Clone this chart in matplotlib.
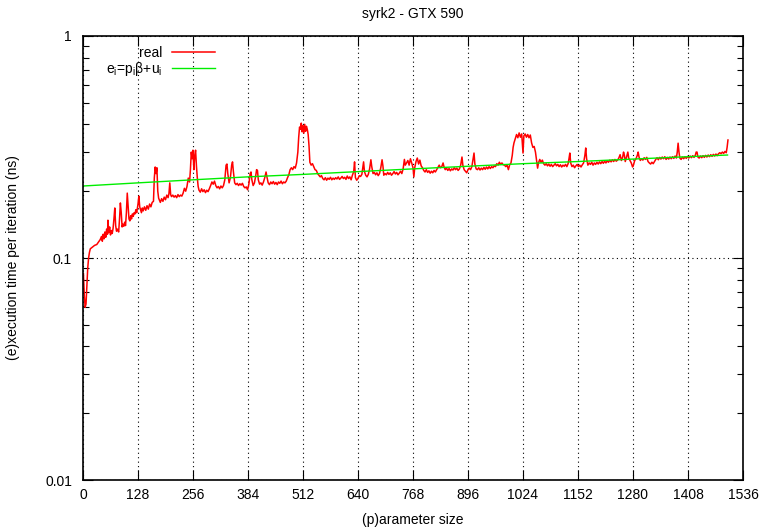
import matplotlib
matplotlib.use("Agg")
import matplotlib.pyplot as plt
from matplotlib.ticker import FixedLocator, LogLocator, NullFormatter, FixedFormatter

plt.rcParams['font.family'] = ['Liberation Sans', 'DejaVu Sans']

title = "syrk2 - GTX 590"
xlabel = "(p)arameter size"
ylabel = "(e)xecution time per iteration (ns)"
x_ticks = [0, 128, 256, 384, 512, 640, 768, 896, 1024, 1152, 1280, 1408, 1536]
y_ticks = [0.01, 0.1, 1]
y_tick_labels = ["0.01", "0.1", "1"]

real_x = [
    1, 3, 5, 7, 9, 11, 13, 15, 17, 22, 27, 32, 36, 40,
    43, 45, 47, 49, 51, 53, 55, 57, 58, 60, 62, 64, 66, 68, 70, 72, 74, 76, 78, 80,
    83, 85, 87, 89, 91, 93, 95, 97, 99, 101, 103, 105, 107, 109, 111, 113, 115, 117, 119, 121,
    123, 125, 128, 130, 132, 134, 136, 138, 140, 143, 146, 149, 152, 155, 158, 161, 164, 166,
    168, 170, 172, 174, 176, 178, 180, 183, 186, 189, 192, 195, 198, 200, 202, 204, 206, 209,
    212, 215, 218, 221, 224, 227, 230, 233, 236, 239, 242, 245, 248, 250, 252, 254, 256, 258,
    260, 262, 264, 266, 268, 270,
    273, 276, 279, 282, 285, 288, 291, 294, 297, 300, 303, 306, 309, 312, 315, 318, 321, 324,
    327, 330, 333, 335, 337, 340, 343, 346, 348, 350, 353, 356, 359, 362, 365, 368, 371, 374,
    377, 380, 383, 386, 389, 391, 393, 396, 399, 402, 404, 406, 408, 411, 414, 417, 420, 423,
    426, 428, 431, 434, 437, 440, 443, 446, 449, 452, 455, 458, 461, 464, 467, 470, 473, 476,
    479, 482, 485, 488, 491, 494, 497, 500, 502, 504,
    506, 508, 510, 512, 514, 516, 518, 520, 522, 524, 526, 528, 531, 534, 537, 540, 543, 546,
    549, 552, 555, 558, 561, 564, 567, 570, 573, 576, 579, 582, 585, 588, 591, 594, 597, 600,
    603, 606, 609, 612, 615, 618, 621, 624, 627, 630, 632, 634, 637, 640, 643, 646, 649, 651,
    653, 655, 658, 661, 664, 667, 670, 672, 675, 678, 681, 684, 687, 690, 693, 696, 698, 700,
    703, 706, 709, 712, 715, 718, 721, 724, 727, 730, 733, 736, 739, 742, 745, 748, 750,
    753, 756, 759, 762, 765, 768, 770, 772, 775, 778, 781, 784, 787, 790, 793, 796, 799, 802,
    805, 808, 811, 814, 817, 820, 823, 826, 829, 832, 835, 838, 840, 843, 846, 849, 852, 855,
    858, 861, 864, 867, 870, 873, 876, 879, 882, 884, 887, 890, 893, 896, 899, 902, 905, 908,
    910, 912, 915, 918, 921, 924, 927, 930, 933, 936, 939, 942, 945, 948, 951, 954, 957, 960,
    963, 966, 969, 972, 975, 978, 981, 984, 987, 990, 993, 996, 999, 1001, 1003,
    1006, 1009, 1012, 1015, 1018, 1021, 1024, 1026, 1029, 1032, 1035, 1038, 1041, 1044, 1047,
    1050, 1053, 1056, 1058, 1060, 1063, 1066, 1069, 1072, 1075, 1078, 1081, 1084, 1087, 1090,
    1093, 1096, 1099, 1102, 1105, 1108, 1111, 1114, 1117, 1120, 1123, 1126, 1129, 1131, 1133,
    1135, 1138, 1141, 1144, 1147, 1150, 1153, 1156, 1159, 1162, 1165, 1168, 1170, 1172, 1175,
    1178, 1181, 1184, 1187, 1190, 1193, 1196, 1199, 1202, 1205, 1208, 1211, 1214, 1217, 1220,
    1223, 1226, 1229, 1232, 1235, 1238, 1241, 1244, 1247, 1250,
    1253, 1256, 1258, 1260, 1262, 1265, 1268, 1270, 1273, 1276, 1279, 1281, 1284, 1287, 1290,
    1292, 1294, 1297, 1300, 1303, 1306, 1309, 1312, 1315, 1318, 1321, 1324, 1327, 1330, 1333,
    1336, 1339, 1342, 1345, 1348, 1351, 1354, 1357, 1360, 1363, 1366, 1369, 1372, 1375, 1378,
    1381, 1383, 1385, 1387, 1389, 1392, 1395, 1398, 1401, 1404, 1407, 1410, 1413, 1416, 1419,
    1422, 1425, 1427, 1429, 1431, 1434, 1437, 1440, 1443, 1446, 1449, 1452, 1455, 1458, 1461,
    1464, 1467, 1470, 1473, 1476, 1479, 1482, 1485, 1488, 1491, 1494, 1497, 1499, 1501,
]

real_y = [
    0.085, 0.068, 0.060, 0.062, 0.075, 0.090, 0.100, 0.106, 0.110, 0.112, 0.114, 0.115, 0.118, 0.121,
    0.125, 0.119, 0.128, 0.122, 0.131, 0.124, 0.135, 0.128, 0.148, 0.130, 0.138, 0.127, 0.133, 0.129, 0.136, 0.150, 0.168, 0.140, 0.132, 0.135,
    0.131, 0.150, 0.177, 0.160, 0.138, 0.142, 0.139, 0.145, 0.140, 0.160, 0.196, 0.170, 0.150, 0.147, 0.155, 0.150, 0.158, 0.154, 0.160, 0.158,
    0.165, 0.160, 0.175, 0.190, 0.170, 0.165, 0.160, 0.168, 0.163, 0.170, 0.164, 0.172, 0.166, 0.175, 0.170, 0.178, 0.180, 0.230,
    0.257, 0.240, 0.255, 0.200, 0.186, 0.182, 0.178, 0.185, 0.180, 0.188, 0.183, 0.192, 0.187, 0.195, 0.218, 0.193, 0.189, 0.192,
    0.188, 0.191, 0.187, 0.193, 0.189, 0.192, 0.190, 0.196, 0.206, 0.200, 0.210, 0.229, 0.220, 0.250, 0.300, 0.280, 0.306, 0.250,
    0.290, 0.306, 0.260, 0.230, 0.210, 0.202,
    0.198, 0.205, 0.199, 0.203, 0.197, 0.202, 0.199, 0.205, 0.212, 0.220, 0.215, 0.222, 0.212, 0.207, 0.210, 0.205, 0.211, 0.207,
    0.212, 0.225, 0.262, 0.265, 0.240, 0.218, 0.230, 0.262, 0.271, 0.245, 0.218, 0.214, 0.217, 0.212, 0.216, 0.213, 0.217, 0.210,
    0.207, 0.209, 0.203, 0.215, 0.240, 0.244, 0.225, 0.212, 0.218, 0.235, 0.250, 0.248, 0.225, 0.215, 0.218, 0.213, 0.220, 0.230,
    0.244, 0.232, 0.218, 0.214, 0.220, 0.216, 0.221, 0.215, 0.219, 0.214, 0.220, 0.217, 0.222, 0.216, 0.220, 0.218, 0.222, 0.230,
    0.237, 0.250, 0.255, 0.250, 0.258, 0.254, 0.268, 0.300, 0.350, 0.389,
    0.380, 0.405, 0.370, 0.395, 0.365, 0.400, 0.372, 0.392, 0.380, 0.360, 0.320, 0.270, 0.262, 0.266, 0.258, 0.250, 0.248, 0.240,
    0.236, 0.232, 0.235, 0.228, 0.225, 0.230, 0.224, 0.229, 0.226, 0.231, 0.225, 0.229, 0.226, 0.230, 0.227, 0.232, 0.226, 0.229,
    0.233, 0.228, 0.231, 0.226, 0.234, 0.228, 0.232, 0.225, 0.236, 0.245, 0.271, 0.230, 0.224, 0.228, 0.235, 0.233, 0.238, 0.255,
    0.271, 0.245, 0.236, 0.232, 0.238, 0.252, 0.277, 0.258, 0.240, 0.243, 0.237, 0.242, 0.235, 0.240, 0.255, 0.277, 0.260, 0.236,
    0.240, 0.237, 0.243, 0.238, 0.242, 0.236, 0.240, 0.245, 0.239, 0.243, 0.237, 0.241, 0.246, 0.240, 0.252, 0.278, 0.262,
    0.268, 0.275, 0.262, 0.280, 0.268, 0.255, 0.232, 0.255, 0.272, 0.282, 0.265, 0.276, 0.260, 0.255, 0.248, 0.244, 0.250, 0.243,
    0.247, 0.241, 0.246, 0.242, 0.248, 0.244, 0.250, 0.256, 0.262, 0.255, 0.258, 0.268, 0.258, 0.250, 0.254, 0.248, 0.253, 0.247,
    0.252, 0.249, 0.255, 0.250, 0.254, 0.248, 0.252, 0.262, 0.285, 0.262, 0.250, 0.246, 0.242, 0.250, 0.254, 0.250, 0.258, 0.280,
    0.297, 0.265, 0.252, 0.250, 0.255, 0.249, 0.254, 0.250, 0.256, 0.251, 0.257, 0.252, 0.258, 0.253, 0.258, 0.255, 0.260, 0.258,
    0.266, 0.262, 0.270, 0.264, 0.268, 0.263, 0.262, 0.258, 0.262, 0.250, 0.263, 0.268, 0.290, 0.315, 0.330,
    0.345, 0.360, 0.348, 0.366, 0.350, 0.362, 0.297, 0.355, 0.362, 0.350, 0.360, 0.348, 0.358, 0.330, 0.315,
    0.318, 0.300, 0.272, 0.254, 0.268, 0.278, 0.270, 0.276, 0.266, 0.262, 0.266, 0.260, 0.265, 0.259, 0.264,
    0.258, 0.262, 0.266, 0.260, 0.264, 0.258, 0.263, 0.257, 0.262, 0.259, 0.264, 0.258, 0.266, 0.280, 0.297,
    0.268, 0.258, 0.262, 0.255, 0.260, 0.264, 0.258, 0.262, 0.257, 0.263, 0.268, 0.290, 0.313, 0.280, 0.262,
    0.268, 0.264, 0.270, 0.262, 0.268, 0.264, 0.270, 0.265, 0.271, 0.266, 0.272, 0.267, 0.273, 0.268, 0.274,
    0.270, 0.276, 0.271, 0.277, 0.272, 0.278, 0.273, 0.276, 0.282, 0.292,
    0.275, 0.285, 0.300, 0.290, 0.272, 0.285, 0.300, 0.282, 0.275, 0.268, 0.257, 0.262, 0.275, 0.280, 0.290,
    0.300, 0.285, 0.275, 0.280, 0.276, 0.283, 0.278, 0.284, 0.272, 0.268, 0.265, 0.270, 0.266, 0.272, 0.278,
    0.283, 0.277, 0.284, 0.279, 0.285, 0.280, 0.286, 0.278, 0.284, 0.279, 0.285, 0.280, 0.286, 0.281, 0.288,
    0.282, 0.300, 0.329, 0.300, 0.282, 0.278, 0.285, 0.280, 0.286, 0.281, 0.287, 0.282, 0.288, 0.283, 0.289,
    0.284, 0.290, 0.300, 0.300, 0.285, 0.282, 0.288, 0.283, 0.289, 0.284, 0.290, 0.285, 0.291, 0.286, 0.292,
    0.287, 0.293, 0.288, 0.294, 0.289, 0.295, 0.298, 0.295, 0.300, 0.296, 0.302, 0.298, 0.315, 0.340,
]

fit_x = [0, 128, 256, 384, 512, 640, 768, 896, 1024, 1152, 1280, 1408, 1500]
fit_y = [0.211, 0.218, 0.225, 0.232, 0.238, 0.245, 0.252, 0.259, 0.266, 0.272, 0.279, 0.286, 0.291]

fig = plt.figure(figsize=(7.64, 5.28), dpi=100)
ax = fig.add_axes([83 / 764, 48 / 528, 660 / 764, 444 / 528])

ax.plot(real_x, real_y, color='#ff0000', lw=1.1, label='real')
ax.plot(fit_x, fit_y, color='#00ee00', lw=1.0, label=r'e$_\mathregular{i}$=p$_\mathregular{i}$β+u$_\mathregular{i}$')

ax.set_yscale('log')
ax.set_xlim(0, 1536)
ax.set_ylim(0.01, 1)
ax.xaxis.set_major_locator(FixedLocator(x_ticks))
ax.yaxis.set_major_locator(FixedLocator(y_ticks))
ax.yaxis.set_major_formatter(FixedFormatter(y_tick_labels))
ax.yaxis.set_minor_locator(LogLocator(base=10, subs=[2, 3, 4, 5, 6, 7, 8, 9]))
ax.yaxis.set_minor_formatter(NullFormatter())

ax.tick_params(which='both', direction='in', top=True, right=True, labelsize=10, color='black')
ax.tick_params(which='major', length=7, width=0.8)
ax.tick_params(which='minor', length=4, width=0.8)
ax.tick_params(axis='x', pad=6)
ax.tick_params(axis='y', pad=8)

ax.grid(True, which='major', axis='both', color='black', linestyle=(0, (1, 3)), lw=0.8)
for s in ax.spines.values():
    s.set_linewidth(1.2)

ax.set_title(title, fontsize=10, pad=13)
ax.set_xlabel(xlabel, fontsize=10, labelpad=8)
ax.set_ylabel(ylabel, fontsize=10, labelpad=18)

leg = ax.legend(loc='upper left', bbox_to_anchor=(0.035, 0.978), frameon=False, markerfirst=False,
                fontsize=10, handlelength=3.1, handletextpad=0.7, borderpad=0, borderaxespad=0,
                labelspacing=0.0)

fig.savefig('out.png', dpi=100)
